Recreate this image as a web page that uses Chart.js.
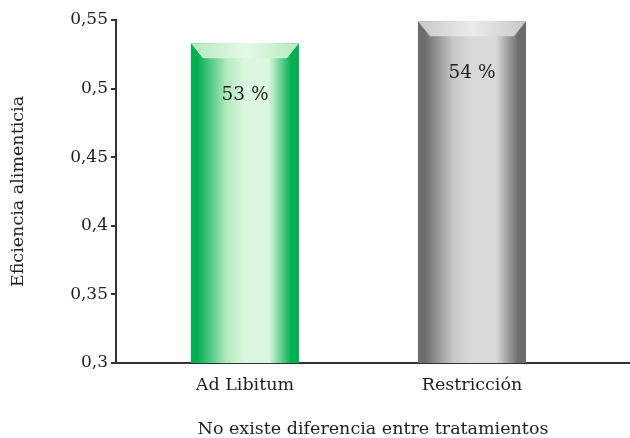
<!DOCTYPE html>
<html>
<head>
<meta charset="utf-8">
<script src="https://cdn.jsdelivr.net/npm/chart.js@4/dist/chart.umd.min.js"></script>
<style>
  html, body { margin: 0; padding: 0; background: #ffffff; }
  #wrap { width: 630px; height: 438px; }
</style>
</head>
<body>
<div id="wrap"><canvas id="c" width="630" height="438"></canvas></div>
<script>
// Treatments and feed efficiency
const categories = ['Ad Libitum', 'Restricción'];
const efficiency = [0.533, 0.549];
const yTicks = [0.3, 0.35, 0.4, 0.45, 0.5, 0.55];

// Bar shading: edge colour, light centre colour, bevel colours
const shades = [
  { edge: '#00b050', mid: '#dcf7df', light: '#b4eabf', bevel: '#e6f9e8' },
  { edge: '#6c6c6c', mid: '#d9d9d9', light: '#c8c8c8', bevel: '#ebebeb' }
];

const FONT = '"DejaVu Serif", serif';
const FS = 17.5;

const pct = v => Math.floor(v * 100) + ' %';
const comma = v => String(Number(v.toFixed(2))).replace('.', ',');

// Cylinder-like horizontal gradient, bevelled top and value labels
const barStyle = {
  id: 'barStyle',
  beforeDatasetsDraw(chart) {
    const ctx = chart.ctx;
    chart.getDatasetMeta(0).data.forEach((bar, i) => {
      const s = shades[i];
      const l = bar.x - bar.width / 2, r = bar.x + bar.width / 2;
      const g = ctx.createLinearGradient(l, 0, r, 0);
      g.addColorStop(0, s.edge);
      g.addColorStop(0.06, s.edge);
      g.addColorStop(0.33, s.light);
      g.addColorStop(0.5, s.mid);
      g.addColorStop(0.72, s.mid);
      g.addColorStop(0.93, s.edge);
      g.addColorStop(1, s.edge);
      bar.options.backgroundColor = g;
    });
  },
  afterDatasetsDraw(chart) {
    const ctx = chart.ctx;
    chart.getDatasetMeta(0).data.forEach((bar, i) => {
      const s = shades[i];
      const l = bar.x - bar.width / 2, r = bar.x + bar.width / 2;
      const top = bar.y;
      const h = 15, inset = 12;
      const g = ctx.createLinearGradient(l, 0, r, 0);
      g.addColorStop(0, s.light);
      g.addColorStop(0.5, s.bevel);
      g.addColorStop(1, s.light);
      ctx.save();
      ctx.beginPath();
      ctx.moveTo(l, top);
      ctx.lineTo(r, top);
      ctx.lineTo(r - inset, top + h);
      ctx.lineTo(l + inset, top + h);
      ctx.closePath();
      ctx.fillStyle = g;
      ctx.fill();
      ctx.fillStyle = '#1e1e1e';
      ctx.font = '18.5px ' + FONT;
      ctx.textAlign = 'center';
      ctx.textBaseline = 'middle';
      ctx.fillText(pct(efficiency[i]), bar.x, top + 52);
      ctx.restore();
    });
  }
};

new Chart(document.getElementById('c'), {
  type: 'bar',
  data: {
    datasets: [{
      data: categories.map((_, i) => ({ x: i, y: efficiency[i] })),
      backgroundColor: shades.map(s => s.edge),
      borderWidth: 0,
      categoryPercentage: 1,
      barPercentage: 0.476
    }]
  },
  options: {
    responsive: false,
    animation: false,
    devicePixelRatio: 1,
    layout: { padding: { top: 20, right: 0, bottom: 0, left: 0 } },
    plugins: { legend: { display: false }, tooltip: { enabled: false } },
    scales: {
      x: {
        type: 'linear',
        offset: false,
        min: -0.568,
        max: 1.696,
        afterBuildTicks: sc => { sc.ticks = categories.map((_, i) => ({ value: i })); },
        afterFit: sc => { sc.height = 75; },
        grid: { display: false, drawTicks: false, offset: false },
        border: { display: true, color: '#333333', width: 2 },
        ticks: {
          callback: v => categories[v],
          color: '#1e1e1e',
          font: { family: FONT, size: FS },
          padding: 12,
          maxRotation: 0,
          autoSkip: false
        },
        title: {
          display: true,
          text: 'No existe diferencia entre tratamientos',
          color: '#1e1e1e',
          font: { family: FONT, size: FS, lineHeight: 1 },
          padding: { top: 0, bottom: 0 }
        }
      },
      y: {
        min: 0.3,
        max: 0.55,
        afterBuildTicks: sc => { sc.ticks = yTicks.map(v => ({ value: v })); },
        afterFit: sc => { sc.width = 116; },
        grid: { drawOnChartArea: false, drawTicks: true, tickLength: 5, color: '#333333', lineWidth: 2 },
        border: { display: true, color: '#333333', width: 2 },
        ticks: {
          callback: v => comma(v),
          color: '#1e1e1e',
          font: { family: FONT, size: 17 },
          padding: 3
        },
        title: {
          display: true,
          text: 'Eficiencia alimenticia',
          color: '#1e1e1e',
          font: { family: FONT, size: FS, lineHeight: 1 },
          padding: { top: 10, bottom: 0 }
        }
      }
    }
  },
  plugins: [barStyle]
});
</script>
</body>
</html>
